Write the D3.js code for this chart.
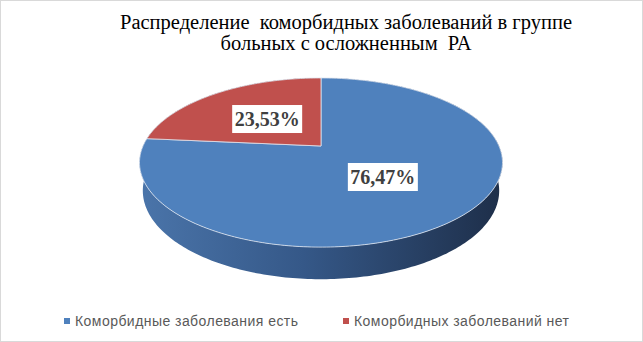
<!DOCTYPE html>
<html><head><meta charset="utf-8">
<script src="https://cdn.jsdelivr.net/npm/d3@7"></script>
<style>
html,body{margin:0;padding:0;background:#fff;}
svg{display:block;}
</style></head>
<body>
<svg id="chart" width="643" height="342"></svg>
<script>
const titleLines = ["Распределение  коморбидных заболеваний в группе", "больных с осложненным  РА"];
const categories = ["Коморбидные заболевания есть", "Коморбидных заболеваний нет"];
const values = [76.47, 23.53];
const valueLabels = ["76,47%", "23,53%"];
const colors = ["#4f81bd", "#c0504d"];

const W = 643, H = 342;
const svg = d3.select("#chart");

svg.append("rect").attr("x",0.5).attr("y",0.5).attr("width",W-1).attr("height",H-1)
  .attr("fill","#fff").attr("stroke","#d9d9d9");

// title
const title = svg.append("text").attr("font-family","'Liberation Serif','Times New Roman',serif")
  .attr("font-size",20.5).attr("fill","#000").attr("text-anchor","middle").style("white-space","pre");
titleLines.forEach((l,i)=>title.append("tspan").attr("x",346).attr("y",29+i*21).text(l));

// 3D perspective projection of unit disk
const cx = 321, cy = 146, S = 178;
const alpha = Math.asin(0.457), sa = Math.sin(alpha), ca = Math.cos(alpha);
const Dcam = 4.55, thick = 0.178;
function proj(theta, r, h) {
  const x = r*Math.sin(theta), z = -r*Math.cos(theta);
  const Y = z*sa - h*ca, d = z*ca + h*sa;
  const sc = Dcam/(Dcam - d);
  return [cx + S*x*sc, cy + S*Y*sc];
}

const pie = d3.pie().sort(null).value(d=>d.v).startAngle(0).endAngle(2*Math.PI);
const arcs = pie(values.map((v,i)=>({v,i})));

const defs = svg.append("defs");
const grad = defs.append("linearGradient").attr("id","sideGrad")
  .attr("gradientUnits","userSpaceOnUse").attr("x1",cx-S).attr("x2",cx+S).attr("y1",0).attr("y2",0);
grad.append("stop").attr("offset","0%").attr("stop-color","#4a74a9");
grad.append("stop").attr("offset","45%").attr("stop-color","#355888");
grad.append("stop").attr("offset","100%").attr("stop-color","#1e2f4a");

const N = 360;
const sideG = svg.append("g");
const line = d3.line();
arcs.forEach(a=>{
  const pts = [];
  const steps = Math.max(2, Math.ceil((a.endAngle-a.startAngle)/(2*Math.PI)*N));
  for (let k=0;k<=steps;k++){ const t=a.startAngle+(a.endAngle-a.startAngle)*k/steps; pts.push(proj(t,1,0)); }
  for (let k=steps;k>=0;k--){ const t=a.startAngle+(a.endAngle-a.startAngle)*k/steps; pts.push(proj(t,1,-thick)); }
  sideG.append("path").attr("d", line(pts)+"Z")
    .attr("fill", a.data.i===0 ? "url(#sideGrad)" : "#7a2f2d");
});

const topG = svg.append("g");
arcs.forEach(a=>{
  const pts = [proj(0,0,0)];
  const steps = Math.max(2, Math.ceil((a.endAngle-a.startAngle)/(2*Math.PI)*N));
  for (let k=0;k<=steps;k++){ const t=a.startAngle+(a.endAngle-a.startAngle)*k/steps; pts.push(proj(t,1,0)); }
  topG.append("path").attr("d", line(pts)+"Z")
    .attr("fill", colors[a.data.i]).attr("stroke","#dfe6f0").attr("stroke-width",0.8)
    .attr("stroke-linejoin","round");
});

const labG = svg.append("g");
arcs.forEach(a=>{
  const mid = (a.startAngle+a.endAngle)/2;
  const [lx,ly] = proj(mid,0.48,0);
  const g = labG.append("g").attr("transform",`translate(${lx},${ly})`);
  g.append("rect").attr("x",-35).attr("y",-14).attr("width",70).attr("height",28).attr("fill","#fff");
  g.append("text").attr("text-anchor","middle").attr("y",7)
    .attr("font-family","'Liberation Serif','Times New Roman',serif").attr("font-weight","bold")
    .attr("font-size",20).attr("fill","#404040").text(valueLabels[a.data.i]);
});

const legX = [64, 343];
const legG = svg.append("g");
categories.forEach((c,i)=>{
  legG.append("rect").attr("x",legX[i]).attr("y",318).attr("width",6).attr("height",6).attr("fill",colors[i]);
  legG.append("text").attr("x",legX[i]+11).attr("y",326)
    .attr("font-family","'Liberation Sans',Arial,sans-serif").attr("font-size",14)
    .attr("letter-spacing",0.45).attr("fill","#595959").text(c);
});
</script>
</body></html>
